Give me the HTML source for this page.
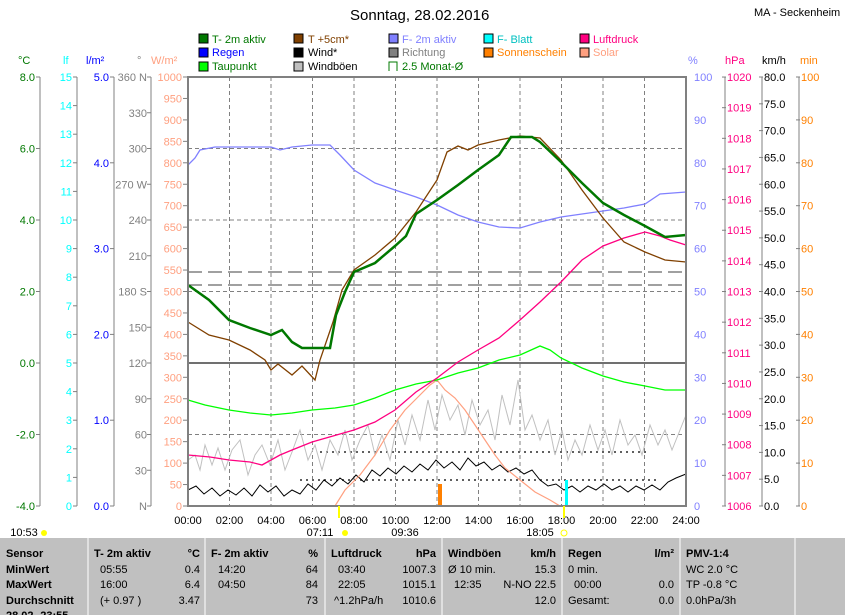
<!DOCTYPE html><html><head><style>
body{margin:0;background:#fff;width:845px;height:615px;overflow:hidden;font-family:"Liberation Sans",sans-serif}
svg{position:absolute;left:0;top:0;font-family:"Liberation Sans",sans-serif}
</style></head><body>
<svg width="845" height="615" viewBox="0 0 845 615" font-size="11">
<text x="350" y="20" font-size="15">Sonntag, 28.02.2016</text>
<text x="754" y="16" font-size="11">MA - Seckenheim</text>
<g font-size="11">
<rect x="199" y="34" width="9" height="9" fill="#007800" stroke="#000"/><text x="212" y="43" fill="#007800">T- 2m aktiv</text>
<rect x="199" y="48" width="9" height="9" fill="#0000ff" stroke="#000"/><text x="212" y="56" fill="#0000ff">Regen</text>
<rect x="199" y="62" width="9" height="9" fill="#00ff00" stroke="#000"/><text x="212" y="70" fill="#007800">Taupunkt</text>
<rect x="294" y="34" width="9" height="9" fill="#804000" stroke="#000"/><text x="308" y="43" fill="#804000">T +5cm*</text>
<rect x="294" y="48" width="9" height="9" fill="#000" stroke="#000"/><text x="308" y="56">Wind*</text>
<rect x="294" y="62" width="9" height="9" fill="#c0c0c0" stroke="#000"/><text x="308" y="70">Windböen</text>
<rect x="389" y="34" width="9" height="9" fill="#8080ff" stroke="#000"/><text x="402" y="43" fill="#8080ff">F- 2m aktiv</text>
<rect x="389" y="48" width="9" height="9" fill="#808080" stroke="#000"/><text x="402" y="56" fill="#808080">Richtung</text>
<path d="M389 71V62h8v9" fill="none" stroke="#007800"/><text x="402" y="70" fill="#007800">2.5 Monat-Ø</text>
<rect x="484" y="34" width="9" height="9" fill="#00ffff" stroke="#000"/><text x="497" y="43" fill="#00c0c0">F- Blatt</text>
<rect x="484" y="48" width="9" height="9" fill="#ff8000" stroke="#000"/><text x="497" y="56" fill="#ff8000">Sonnenschein</text>
<rect x="580" y="34" width="9" height="9" fill="#ff0080" stroke="#000"/><text x="593" y="43" fill="#ff0080">Luftdruck</text>
<rect x="580" y="48" width="9" height="9" fill="#ffa080" stroke="#000"/><text x="593" y="56" fill="#ffa080">Solar</text>
</g>
<g font-size="11">
<text x="18" y="64" fill="#007800">°C</text><text x="63" y="64" fill="#00ffff">lf</text><text x="86" y="64" fill="#0000ff">l/m²</text>
<text x="137" y="64" fill="#808080">°</text><text x="151" y="64" fill="#ffa080">W/m²</text>
<text x="688" y="64" fill="#8080ff">%</text><text x="725" y="64" fill="#ff0080">hPa</text><text x="762" y="64">km/h</text><text x="800" y="64" fill="#ff8000">min</text>
</g>
<g stroke="#808080" fill="none">
<path d="M40 77V506M77 77V506M114 77V506M151 77V506M725 77V506M762 77V506M799 77V506"/>
</g>
<g id="ax" font-size="11"></g>
<g stroke="#808080" stroke-dasharray="4,3" fill="none">
<path d="M229.5 77V506M271 77V506M312.5 77V506M354 77V506M395.5 77V506M437 77V506M478.5 77V506M520 77V506M561.5 77V506M603 77V506M644.5 77V506"/>
<path d="M188 148.5H686M188 220H686M188 291.5H686M188 434.5H686"/>
</g>
<path d="M188 363H686" stroke="#707070" stroke-width="2"/>
<path d="M188 272H686M188 285H686" stroke="#404040" stroke-dasharray="14,6"/>
<path d="M320 452H650M300 480H660" stroke="#606060" stroke-dasharray="2,4" stroke-width="2"/>
<polyline fill="none" stroke="#c0c0c0" points="188,460 195,455 200,470 205,445 212,465 218,448 225,470 232,450 240,440 248,475 255,455 262,445 270,465 278,440 285,470 292,452 300,430 308,460 315,445 322,470 330,440 338,455 345,430 352,460 360,440 368,425 375,455 382,435 390,460 398,420 405,445 412,415 420,440 428,400 435,430 442,395 450,420 458,405 465,435 472,400 480,425 488,410 495,440 502,395 510,425 518,380 525,430 532,415 540,440 548,420 555,455 562,430 568,460 575,440 582,455 590,425 598,450 605,430 612,455 620,420 628,445 635,435 642,455 650,425 658,445 665,430 672,450 680,430 686,415"/>
<polyline fill="none" stroke="#000" points="188,490 196,486 204,494 212,488 220,496 228,490 236,495 244,488 252,496 260,485 268,492 276,486 284,496 292,490 300,494 308,484 316,490 324,480 332,486 340,478 348,484 356,475 364,482 372,470 380,476 388,468 396,474 404,466 412,472 420,464 428,470 436,460 444,468 452,462 460,470 468,458 476,466 484,462 492,470 500,465 508,472 516,468 524,474 532,470 540,480 548,486 556,484 564,490 572,486 580,492 588,486 596,490 604,484 612,490 620,486 628,492 636,486 644,490 652,485 660,490 668,482 676,478 686,474"/>
<polyline fill="none" stroke="#ffa080" stroke-width="1.2" points="188,506 335,506 345,490 360,475 375,455 390,430 405,410 420,395 430,385 437,380 445,390 455,398 465,410 475,425 485,440 495,455 505,468 520,480 535,492 550,500 560,506 686,506"/>
<polyline fill="none" stroke="#00ff00" stroke-width="1.3" points="188,400 205,405 229,410 250,413 271,415 292,413 312,410 335,408 354,405 375,398 395,390 416,384 437,380 458,373 478,368 499,360 520,355 540,346 550,350 561,358 582,368 603,376 624,382 645,386 665,390 686,390"/>
<polyline fill="none" stroke="#ff0080" stroke-width="1.3" points="188,455 210,457 229,460 250,462 262,465 280,455 292,450 312,442 333,436 354,430 375,422 395,410 416,392 437,378 458,362 478,350 499,338 520,320 540,302 561,282 582,260 603,246 624,238 645,232 660,236 670,240 686,245"/>
<polyline fill="none" stroke="#8080ff" stroke-width="1.3" points="188,165 195,158 200,150 215,147 271,147 280,150 292,147 312,145 330,145 340,155 354,170 375,183 395,190 416,197 437,205 458,215 478,222 499,227 520,228 540,222 561,217 582,214 603,211 624,208 645,204 660,194 686,192"/>
<polyline fill="none" stroke="#804000" stroke-width="1.3" points="188,322 209,335 229,340 250,350 265,360 271,370 278,364 292,375 302,366 315,380 320,360 333,322 342,290 354,270 375,255 395,238 416,212 437,180 447,152 458,146 468,150 478,145 499,140 520,136 540,138 561,160 582,190 603,218 624,242 645,252 665,260 686,262"/>
<polyline fill="none" stroke="#007800" stroke-width="2.5" points="188,285 209,300 229,320 250,328 271,335 282,330 292,342 302,348 312,348 330,348 336,315 345,292 354,272 375,263 395,246 406,236 416,214 437,200 458,185 478,170 499,155 511,137 532,137 540,142 561,162 582,183 603,203 624,215 645,226 665,237 686,235"/>
<rect x="438" y="484" width="4" height="22" fill="#ff8000"/>
<rect x="565" y="480" width="3" height="26" fill="#00ffff"/>
<path d="M188 77H686V506H188Z" fill="none" stroke="#808080" stroke-width="2"/>
<g font-size="11" text-anchor="middle">
<text x="188" y="524">00:00</text><text x="229.5" y="524">02:00</text><text x="271" y="524">04:00</text><text x="312.5" y="524">06:00</text><text x="354" y="524">08:00</text><text x="395.5" y="524">10:00</text><text x="437" y="524">12:00</text><text x="478.5" y="524">14:00</text><text x="520" y="524">16:00</text><text x="561.5" y="524">18:00</text><text x="603" y="524">20:00</text><text x="644.5" y="524">22:00</text><text x="686" y="524">24:00</text>
<text x="320" y="536">07:11</text><text x="405" y="536">09:36</text><text x="540" y="536">18:05</text><text x="24" y="536">10:53</text>
</g>
<circle cx="345" cy="533" r="3" fill="#ffff00"/><circle cx="564" cy="533" r="3" fill="none" stroke="#ffff00"/><circle cx="44" cy="533" r="3" fill="#ffff00"/>
<rect x="338" y="506" width="2" height="12" fill="#ffff00"/><rect x="563" y="506" width="2" height="12" fill="#ffff00"/>
<rect x="0" y="538" width="845" height="77" fill="#c0c0c0"/>
<g stroke="#fff"><path d="M88 538V615M205 538V615M325 538V615M442 538V615M562 538V615M680 538V615M795 538V615"/></g>
<g font-size="11" font-weight="bold">
<text x="6" y="557">Sensor</text><text x="6" y="573">MinWert</text><text x="6" y="588">MaxWert</text><text x="6" y="604">Durchschnitt</text><text x="6" y="619">28.02.-23:55</text>
<text x="94" y="557">T- 2m aktiv</text><text x="200" y="557" text-anchor="end">°C</text>
<text x="211" y="557">F- 2m aktiv</text><text x="318" y="557" text-anchor="end">%</text>
<text x="331" y="557">Luftdruck</text><text x="436" y="557" text-anchor="end">hPa</text>
<text x="448" y="557">Windböen</text><text x="556" y="557" text-anchor="end">km/h</text>
<text x="568" y="557">Regen</text><text x="674" y="557" text-anchor="end">l/m²</text>
<text x="686" y="557">PMV-1:4</text>
</g>
<g font-size="11">
<text x="100" y="573">05:55</text><text x="200" y="573" text-anchor="end">0.4</text>
<text x="100" y="588">16:00</text><text x="200" y="588" text-anchor="end">6.4</text>
<text x="100" y="604">(+ 0.97 )</text><text x="200" y="604" text-anchor="end">3.47</text>
<text x="218" y="573">14:20</text><text x="318" y="573" text-anchor="end">64</text>
<text x="218" y="588">04:50</text><text x="318" y="588" text-anchor="end">84</text>
<text x="318" y="604" text-anchor="end">73</text>
<text x="338" y="573">03:40</text><text x="436" y="573" text-anchor="end">1007.3</text>
<text x="338" y="588">22:05</text><text x="436" y="588" text-anchor="end">1015.1</text>
<text x="334" y="604">^1.2hPa/h</text><text x="436" y="604" text-anchor="end">1010.6</text>
<text x="448" y="573">Ø 10 min.</text><text x="556" y="573" text-anchor="end">15.3</text>
<text x="454" y="588">12:35</text><text x="556" y="588" text-anchor="end">N-NO 22.5</text>
<text x="556" y="604" text-anchor="end">12.0</text>
<text x="568" y="573">0 min.</text>
<text x="574" y="588">00:00</text><text x="674" y="588" text-anchor="end">0.0</text>
<text x="568" y="604">Gesamt:</text><text x="674" y="604" text-anchor="end">0.0</text>
<text x="686" y="573">WC 2.0 °C</text><text x="686" y="588">TP -0.8 °C</text><text x="686" y="604">0.0hPa/3h</text>
</g>
</svg>
<script>
var g=document.getElementById('ax'),s='';
function T(x,y,t,c,a){s+='<text x="'+x+'" y="'+(y+4)+'" fill="'+c+'" text-anchor="'+(a||'end')+'">'+t+'</text>';}
function tick(x1,x2,y,c){s+='<path d="M'+x1+' '+y+'H'+x2+'" stroke="'+(c||'#808080')+'"/>';}
for(var i=0;i<=6;i++){var y=77+i*71.5;T(35,y,(8-2*i).toFixed(1),'#007800');tick(36,40,y);}
for(var i=0;i<=15;i++){var y=506-i*28.6;T(72,y,i,'#00ffff');tick(73,77,y);}
for(var i=0;i<=5;i++){var y=506-i*85.8;T(109,y,i.toFixed(1),'#0000ff');tick(110,114,y);}
var dl={360:'360 N',270:'270 W',180:'180 S',90:'90',0:'N'};
for(var d=0;d<=360;d+=30){var y=506-d/360*429;T(147,y,dl[d]!==undefined?dl[d]:d,'#808080');tick(147,151,y);}
for(var w=0;w<=1000;w+=50){var y=506-w/1000*429;T(182,y,w,'#ffa080');tick(183,188,y);}
for(var p=0;p<=100;p+=10){var y=506-p*4.29;T(694,y,p,'#8080ff','start');}
for(var h=1006;h<=1020;h++){var y=506-(h-1006)*30.64;T(727,y,h,'#ff0080','start');tick(722,726,y);}
for(var k=0;k<=80;k+=5){var y=506-k/80*429;T(764,y,k.toFixed(1),'#000','start');tick(759,763,y);}
for(var m=0;m<=100;m+=10){var y=506-m*4.29;T(801,y,m,'#ff8000','start');tick(796,800,y);}
g.innerHTML=s;
</script>
</body></html>
